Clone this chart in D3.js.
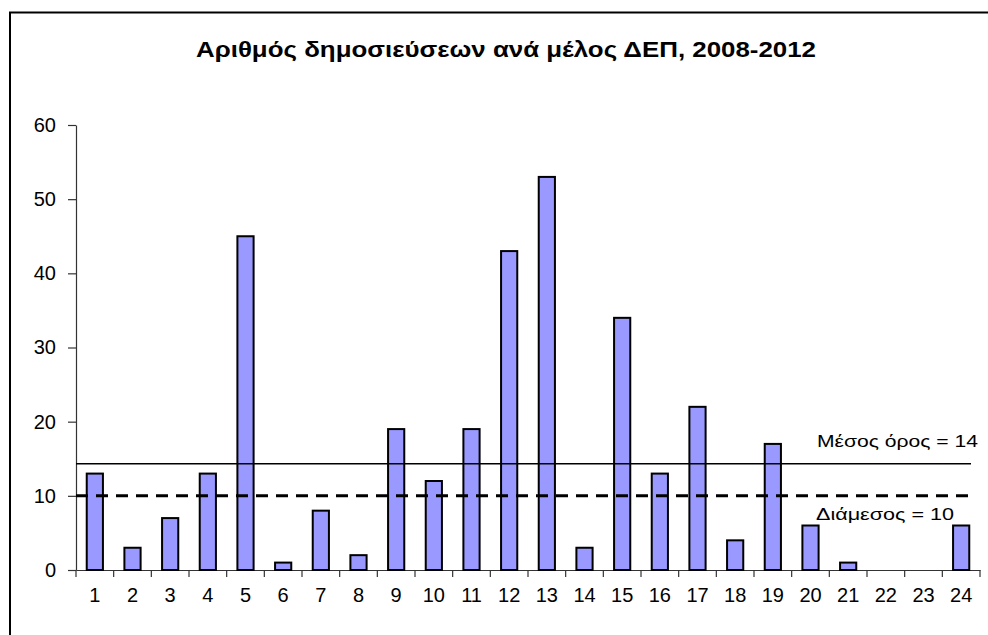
<!DOCTYPE html>
<html>
<head>
<meta charset="utf-8">
<script src="https://cdn.jsdelivr.net/npm/d3@7"></script>
<style>
  body { margin: 0; background: #fff; }
  svg { display: block; }
</style>
</head>
<body>
<svg id="chart"></svg>
<script>
// chart data
const members = d3.range(1, 25)
const publications = [13, 3, 7, 13, 45, 1, 8, 2, 19, 12, 19, 43, 53, 3, 34, 13, 22, 4, 17, 6, 1, 0, 0, 6]
const yTicks = [0, 10, 20, 30, 40, 50, 60]
const title = "Αριθμός δημοσιεύσεων ανά μέλος ΔΕΠ, 2008-2012"
const meanLabel = "Μέσος όρος = 14"
const medianLabel = "Διάμεσος = 10"

const width = 988
const height = 635
const font = "Arial, 'Liberation Sans', Helvetica, sans-serif"
const margin = { top: 125, right: 8, bottom: 65, left: 76 }

const svg = d3.select("#chart")
	.attr("width", width)
	.attr("height", height)

// frame (cropped at right and bottom)
svg.append("path")
	.attr("d", `M 10,${height} L 10,12.5 L ${width},12.5`)
	.style("fill", "none")
	.style("stroke", "#000")
	.style("stroke-width", 2)

// title
svg.append("text")
	.attr("x", 196)
	.attr("y", 57)
	.attr("textLength", 620)
	.attr("lengthAdjust", "spacingAndGlyphs")
	.text(title)
	.style("font-family", font)
	.style("font-size", "22px")
	.style("font-weight", "bold")
	.style("fill", "#000")

const x = d3.scaleBand()
	.domain(members)
	.range([margin.left, width - margin.right])
	.paddingInner(0.57)
	.paddingOuter(0.285)

const y = d3.scaleLinear()
	.domain([0, 60])
	.range([height - margin.bottom, margin.top])

// y axis
const yAxis = svg.append("g")
	.attr("transform", `translate(${margin.left},0)`)
	.call(d3.axisLeft(y).tickValues(yTicks).tickSize(8).tickSizeOuter(0).tickPadding(12))
yAxis.select(".domain").style("stroke", "#333").style("stroke-width", 1.2)
yAxis.selectAll(".tick line").style("stroke", "#333").style("stroke-width", 1.2)
yAxis.selectAll(".tick text")
	.style("font-family", font)
	.style("font-size", "20px")
	.style("fill", "#000")

// x axis: labels under categories, ticks on category boundaries
const xAxis = svg.append("g")
	.attr("transform", `translate(0,${y(0)})`)
	.call(d3.axisBottom(x).tickSize(0).tickPadding(18))
xAxis.select(".domain").style("stroke", "#333").style("stroke-width", 1.2)
xAxis.selectAll(".tick text")
	.style("font-family", font)
	.style("font-size", "20px")
	.style("fill", "#000")

const boundaries = members.map(d => x(d) - x.step() * x.paddingOuter())
boundaries.push(x.range()[1])
xAxis.selectAll(".bound")
	.data(boundaries)
	.enter()
	.append("line")
	.attr("class", "bound")
	.attr("x1", d => d).attr("x2", d => d)
	.attr("y1", 0).attr("y2", 7)
	.style("stroke", "#333")
	.style("stroke-width", 1.2)

// bars
svg.append("g")
	.selectAll("rect")
	.data(members.map((m, i) => ({ m, v: publications[i] })).filter(d => d.v > 0))
	.enter()
	.append("rect")
	.attr("x", d => x(d.m))
	.attr("y", d => y(d.v))
	.attr("width", x.bandwidth())
	.attr("height", d => y(0) - y(d.v))
	.style("fill", "#9999ff")
	.style("stroke", "#000")
	.style("stroke-width", 2)

// mean and median lines
const mean = d3.mean(publications)
const median = d3.median(publications)
const lineEnd = x.range()[1] - 9

svg.append("line")
	.attr("x1", margin.left).attr("x2", lineEnd)
	.attr("y1", y(mean)).attr("y2", y(mean))
	.style("stroke", "#000")
	.style("stroke-width", 1.6)

svg.append("line")
	.attr("x1", margin.left).attr("x2", lineEnd)
	.attr("y1", y(median)).attr("y2", y(median))
	.style("stroke", "#000")
	.style("stroke-width", 3)
	.style("stroke-dasharray", "12,8")

svg.append("text")
	.attr("x", 817)
	.attr("y", y(mean) - 17)
	.attr("textLength", 161)
	.attr("lengthAdjust", "spacingAndGlyphs")
	.text(meanLabel)
	.style("font-family", font)
	.style("font-size", "17px")
	.style("fill", "#000")

svg.append("text")
	.attr("x", 816)
	.attr("y", y(median) + 24)
	.attr("textLength", 138)
	.attr("lengthAdjust", "spacingAndGlyphs")
	.text(medianLabel)
	.style("font-family", font)
	.style("font-size", "17px")
	.style("fill", "#000")
</script>
</body>
</html>
